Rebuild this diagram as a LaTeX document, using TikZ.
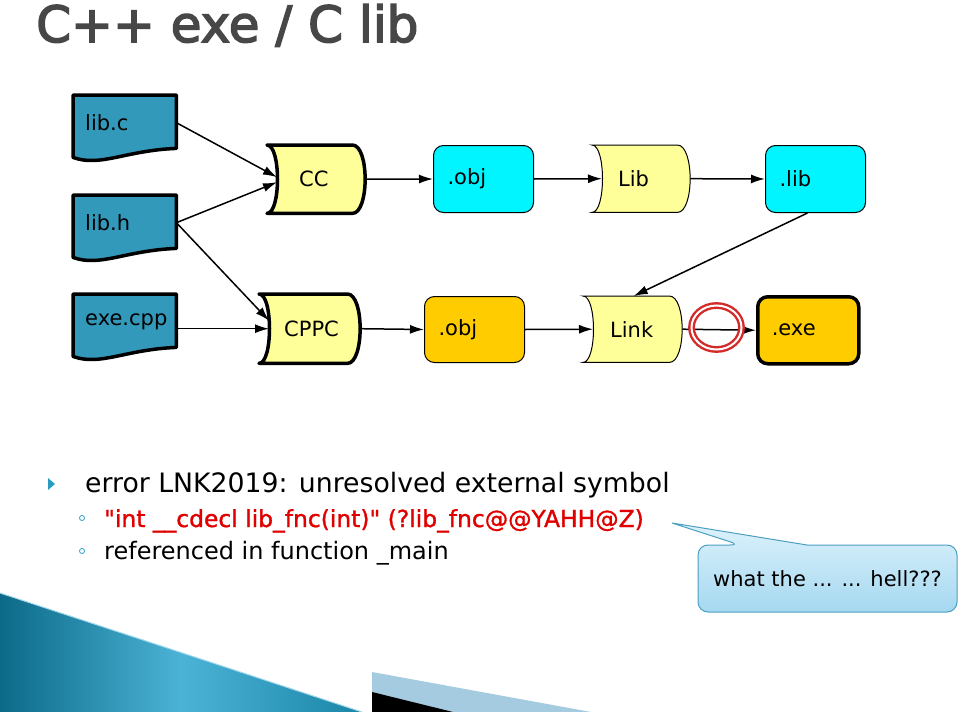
\documentclass[tikz,border=0pt]{standalone}
\usepackage{fontspec}
\setmainfont{DejaVu Sans}
\newfontfamily\titlefont[FakeBold=3]{DejaVu Sans}
\newfontfamily\redfont[FakeBold=1.2]{DejaVu Sans}
\usetikzlibrary{arrows.meta,backgrounds,calc}
\definecolor{docblue}{HTML}{3399BB}
\definecolor{tapeyellow}{HTML}{FFFF99}
\definecolor{objcyan}{HTML}{00F5FF}
\definecolor{exeorange}{HTML}{FFCC00}
\definecolor{ringred}{HTML}{D42A2A}
\definecolor{titlegray}{HTML}{474747}
\definecolor{errred}{HTML}{E00000}
\definecolor{bullteal}{HTML}{2A9CC0}
\definecolor{callfillA}{HTML}{DDF2FC}
\definecolor{callfillB}{HTML}{A5D8F0}
\definecolor{callline}{HTML}{4C9FC0}
\definecolor{tealdark}{HTML}{0C6A88}
\definecolor{tealmid}{HTML}{4BB3D6}
\definecolor{tealright}{HTML}{1B86A8}
\definecolor{paleblue}{HTML}{A4CBE0}
\begin{document}
\begin{tikzpicture}[x=1pt,y=-1pt,
  every node/.style={font=\fontsize{21}{25}\selectfont},
  box/.style={anchor=north west, inner ysep=0pt, align=left},
  rbox/.style={box, draw=black, line width=1pt, rounded corners=10pt,
     minimum width=100pt, minimum height=67pt, inner xsep=14pt, text width=72pt},
  thickline/.style={line width=3.5pt, line join=round},
  thinline/.style={line width=1pt},
  docbox/.style={box, minimum width=103pt, minimum height=55pt, inner xsep=12pt, text width=79pt},
  arr/.style={-{Latex[length=14pt,width=9pt]}, line width=1.5pt},
  txt/.style={anchor=base west, inner sep=0pt}
]
\begin{pgfonlayer}{background}
  \fill[white] (0,0) rectangle (959,712);
\end{pgfonlayer}
\useasboundingbox (0,0) rectangle (959,712);

% title
\node[txt, font=\titlefont\fontsize{50}{60}\selectfont, text=titlegray] (title) at (36,42) {C++ exe / C lib};

% documents
\node[docbox] (libc) at (73,95) {lib.c};
\node[docbox] (libh) at (73,195) {lib.h};
\node[docbox] (execpp) at (73,294) {exe.cpp};

% tape nodes (rect = concave inner point .. convex outer point)
\node[box, minimum width=88pt, minimum height=68pt, inner xsep=22pt, text width=44pt] (cc) at (277,145) {CC};
\node[box, minimum width=91pt, minimum height=69pt, inner xsep=15pt, text width=61pt] (cppc) at (269,294) {CPPC};
\node[box, minimum width=88pt, minimum height=67pt, inner xsep=16pt, text width=56pt] (lib) at (602,145) {Lib};
\node[box, minimum width=89pt, minimum height=66pt, inner xsep=17pt, text width=55pt] (link) at (593,296) {Link};

% rounded boxes
\node[rbox, fill=objcyan] (objA) at (433,145) {.obj};
\node[rbox, fill=objcyan] (libout) at (765,145) {.lib};
\node[rbox, fill=exeorange, minimum height=66pt] (objB) at (424,296) {.obj};
\node[rbox, fill=exeorange, thickline, minimum width=101pt, text width=73pt] (exe) at (756,295) {.exe};

\begin{pgfonlayer}{background}
  \foreach \n in {libc,libh,execpp}{
    \draw[fill=docblue, thickline]
      (\n.north west) -- (\n.north east) -- ([yshift=2pt]\n.south east)
      .. controls ([xshift=-51pt]\n.south east) and ([xshift=27pt,yshift=-17pt]\n.south west) ..
      ([yshift=-7pt]\n.south west) -- cycle;
  }
  \foreach \n/\w in {cc/thickline,cppc/thickline,lib/thinline,link/thinline}{
    \draw[fill=tapeyellow, \w]
      ([xshift=-10pt]\n.north west) -- ([xshift=-13pt]\n.north east)
      .. controls ([xshift=4pt]\n.north east) and ([xshift=4pt]\n.south east) ..
      ([xshift=-13pt]\n.south east) -- ([xshift=-10pt]\n.south west)
      .. controls ([xshift=4pt]\n.south west) and ([xshift=4pt]\n.north west) .. cycle;
  }
\end{pgfonlayer}

% connectors
\draw[arr] (libc.east) -- ([yshift=2pt]cc.west);
\draw[arr] (libh.east) -- ([yshift=-3pt]cc.west);
\draw[arr] (libh.east) -- ([yshift=8pt]cppc.west);
\draw[arr] (execpp.east |- cppc.west) -- (cppc.west);
\draw[arr] (cc.east) -- (objA.west);
\draw[arr] (objA.east) -- (lib.west);
\draw[arr] (lib.east) -- (libout.west);
\draw[arr] ([xshift=-8pt]libout.south) -- ([xshift=-4pt]link.north);
\draw[arr] (cppc.east) -- (objB.west);
\draw[arr] (objB.east) -- (link.west);
\draw[arr] (link.east) -- (exe.west);

% red ring
\draw[ringred, line width=2.4pt, double=white, double distance=2pt] (716.5,327.5) ellipse [x radius=25pt, y radius=22pt];

% bullet text
\fill[bullteal] (48,478) -- (55,484) -- (48,490) -- cycle;
\node[txt, font=\fontsize{26.7}{30}\selectfont] (err) at (85,492) {error LNK2019: unresolved external symbol};
\draw[bullteal, line width=0.8pt] (82,518) circle [radius=2.5pt];
\node[txt, font=\redfont\fontsize{23.4}{28}\selectfont, text=errred] (sym) at (104,527) {\textquotedbl int \_\_cdecl lib\_fnc(int)\textquotedbl{} (?lib\_fnc@@YAHH@Z)};
\draw[bullteal, line width=0.8pt] (82,551) circle [radius=2.5pt];
\node[txt, font=\fontsize{24}{28}\selectfont] (ref) at (104,559) {referenced in function \_main};

% callout
\node[inner sep=0pt, minimum width=259pt, minimum height=67pt] (wth) at (827.5,578.5) {what the ... ... hell???};
\begin{pgfonlayer}{background}
  \path[shade, top color=callfillA, bottom color=callfillB, draw=callline, line width=1pt]
    (807,545) [rounded corners=10pt] -- (957,545) -- (957,612) -- (698,612) -- (698,545) -- (740,545)
    [sharp corners] -- (672,523) -- cycle;
\end{pgfonlayer}

% bottom decoration
\shade[left color=tealdark, right color=tealright, middle color=tealmid] (0,593) -- (362,712) -- (0,712) -- cycle;
\draw[tealmid!50!white, line width=1pt] (0,593) -- (362,712);
\fill[paleblue] (372,672) -- (591,712) -- (372,712) -- cycle;
\fill[black] (372,692) -- (453,712) -- (372,712) -- cycle;
\end{tikzpicture}
\end{document}
